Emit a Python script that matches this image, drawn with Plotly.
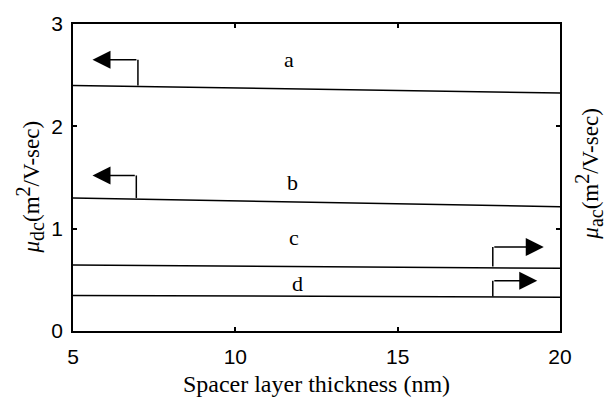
import plotly.graph_objects as go

# Data
thickness = [5, 10, 15, 20]
mu_a = [2.40, 2.375, 2.35, 2.325]
mu_b = [1.30, 1.27, 1.245, 1.215]
mu_c = [0.645, 0.632, 0.622, 0.613]
mu_d = [0.348, 0.340, 0.335, 0.330]
series = [("a", mu_a), ("b", mu_b), ("c", mu_c), ("d", mu_d)]

label_x = [11.64, 11.75, 11.8, 11.9]
label_y = [2.65, 1.45, 0.91, 0.46]

# arrows: (x_start, y_line, y_top, x_head)
arrows = [
    (7.0, 2.40, 2.65, 5.6),
    (6.95, 1.30, 1.52, 5.6),
    (17.93, 0.63, 0.82, 19.5),
    (17.93, 0.337, 0.49, 19.3),
]

x_ticks = [5, 10, 15, 20]
y_ticks = [0, 1, 2, 3]

fig = go.Figure()
for name, vals in series:
    fig.add_trace(go.Scatter(x=thickness, y=vals, mode="lines",
                             line=dict(color="black", width=1.5),
                             showlegend=False, name=name))

for (name, _), lx, ly in zip(series, label_x, label_y):
    fig.add_annotation(x=lx, y=ly, text=name, showarrow=False,
                       font=dict(family="Liberation Serif", size=22, color="black"))

for xs, yl, yt, xh in arrows:
    fig.add_shape(type="line", x0=xs, x1=xs, y0=yl, y1=yt,
                  line=dict(color="black", width=1.5), xref="x", yref="y")
    fig.add_annotation(x=xh, y=yt, ax=xs, ay=yt, axref="x", ayref="y",
                       xref="x", yref="y", text="", showarrow=True,
                       arrowhead=2, arrowsize=2.4, arrowwidth=1.5,
                       arrowcolor="black")

tick_font = dict(family="Liberation Sans", size=21, color="black")
fig.update_xaxes(range=[5, 20], tickvals=x_ticks, ticks="inside", ticklen=4,
                 tickwidth=1.5, tickcolor="black", showline=True, linecolor="black",
                 linewidth=1.5, mirror="ticks", showgrid=False, zeroline=False,
                 tickfont=tick_font, ticklabelstandoff=6,
                 title=dict(text="Spacer layer thickness (nm)", standoff=8,
                            font=dict(family="Liberation Serif", size=24, color="black")))
fig.update_yaxes(range=[0, 3], tickvals=y_ticks, ticks="inside", ticklen=4,
                 tickwidth=1.5, tickcolor="black", showline=True, linecolor="black",
                 linewidth=1.5, mirror="ticks", showgrid=False, zeroline=False,
                 tickfont=tick_font, ticklabelstandoff=4)

title_font = dict(family="Liberation Serif", size=23, color="black")
sub_style = "font-size:20px"
fig.add_annotation(xref="paper", yref="paper", x=-0.088, y=0.468,
                   text=f"<i>μ</i><sub><span style='{sub_style}'>dc</span></sub>(m<sup><span style='{sub_style}'>2</span></sup>/V-sec)",
                   textangle=-90, showarrow=False, font=title_font,
                   xanchor="center", yanchor="middle")
fig.add_annotation(xref="paper", yref="paper", x=1.06, y=0.51,
                   text=f"<i>μ</i><sub><span style='{sub_style}'>ac</span></sub>(m<sup><span style='{sub_style}'>2</span></sup>/V-sec)",
                   textangle=-90, showarrow=False, font=title_font,
                   xanchor="center", yanchor="middle")

fig.update_layout(width=608, height=405, plot_bgcolor="white", paper_bgcolor="white",
                  margin=dict(l=73, r=48, t=17, b=72), showlegend=False)

fig.write_html("out.html", config={"displayModeBar": False},
               post_script="document.body.style.margin='0';document.body.style.overflow='hidden';")
